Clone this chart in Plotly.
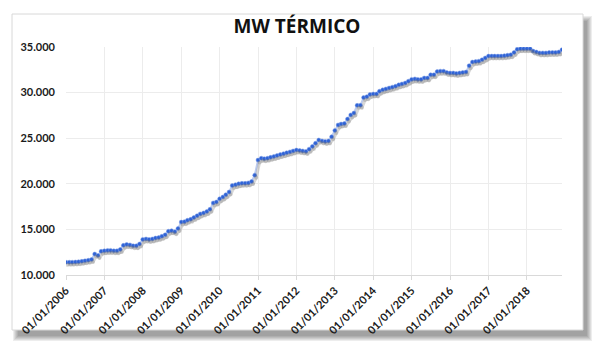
import pandas as pd
import plotly.graph_objects as go

# Monthly thermal capacity (MW), Jan 2006 - Dec 2018
mw_2006 = [11400, 11400, 11400, 11420, 11450, 11500, 11550, 11620, 11700, 12300, 12150, 12600]
mw_2007 = [12650, 12700, 12700, 12650, 12650, 12800, 13250, 13350, 13300, 13200, 13200, 13400]
mw_2008 = [13900, 13950, 13900, 13950, 14050, 14100, 14250, 14400, 14800, 14850, 14750, 15100]
mw_2009 = [15800, 15850, 16000, 16100, 16300, 16500, 16700, 16800, 16950, 17200, 17900, 18000]
mw_2010 = [18350, 18550, 18800, 19100, 19800, 19900, 20000, 20050, 20050, 20100, 20250, 20950]
mw_2011 = [22600, 22800, 22750, 22800, 22900, 23000, 23100, 23200, 23300, 23400, 23500, 23600]
mw_2012 = [23700, 23650, 23600, 23550, 23800, 24100, 24450, 24800, 24700, 24650, 24700, 25150]
mw_2013 = [25850, 26450, 26550, 26600, 27100, 27550, 27750, 28600, 28600, 29450, 29550, 29800]
mw_2014 = [29850, 29850, 30150, 30300, 30400, 30500, 30600, 30700, 30850, 30950, 31050, 31250]
mw_2015 = [31450, 31500, 31450, 31450, 31600, 31600, 31950, 31950, 32300, 32350, 32350, 32200]
mw_2016 = [32150, 32150, 32100, 32150, 32200, 32250, 32950, 33350, 33400, 33450, 33600, 33800]
mw_2017 = [34000, 34000, 34000, 34000, 34000, 34050, 34100, 34150, 34400, 34750, 34800, 34800]
mw_2018 = [34800, 34800, 34550, 34450, 34350, 34350, 34350, 34400, 34400, 34400, 34450, 34700]

values = (mw_2006 + mw_2007 + mw_2008 + mw_2009 + mw_2010 + mw_2011 + mw_2012 +
          mw_2013 + mw_2014 + mw_2015 + mw_2016 + mw_2017 + mw_2018)
dates = pd.date_range("2006-01-01", periods=len(values), freq="MS")

title_text = "MW TÉRMICO"
y_min, y_max, y_step = 10000, 35000, 5000
x_start, x_end = "2006-01-01", "2018-12-01"

# page has an 8px body margin, so the figure is drawn 8px smaller/offset
OFF = 8
W, H = 605 - OFF, 355 - OFF
ML, MR, MT, MB = 66 - OFF, 43, 47 - OFF, 80
PW, PH = W - ML - MR, H - MT - MB


def px(x):
    return (x - OFF - ML) / PW


def py(y):
    return (H - MB - (y - OFF)) / PH


fig = go.Figure()

# shadow of the line (same data on a pixel-shifted overlay axis)
fig.add_trace(go.Scatter(
    x=dates, y=values, mode="lines+markers", xaxis="x2", yaxis="y2",
    line=dict(color="rgba(110,110,110,0.28)", width=3),
    marker=dict(size=4, color="rgba(110,110,110,0.28)"),
    hoverinfo="skip", showlegend=False,
))

fig.add_trace(go.Scatter(
    x=dates, y=values, mode="lines+markers",
    line=dict(color="#bccbee", width=2),
    marker=dict(size=4, color="#2f63d6", line=dict(color="#7d9de6", width=0.5)),
    showlegend=False,
))

shapes = []
# card shadow (blurred)
cx0, cx1, cy0, cy1 = 12, 583, 14, 330
for j in range(6):
    shapes.append(dict(
        type="rect", xref="paper", yref="paper", layer="below",
        x0=px(cx0 + 6 - j), x1=px(cx1 + 4 + j), y0=py(cy1 + 6 + j), y1=py(cy0 + 7 - j),
        fillcolor="rgba(0,0,0,0.07)", line=dict(width=0),
    ))
# card
shapes.append(dict(
    type="rect", xref="paper", yref="paper", layer="below",
    x0=px(cx0), x1=px(cx1), y0=py(cy1), y1=py(cy0),
    fillcolor="white", line=dict(color="#d8d8d8", width=1),
))

# pixel-shift for line shadow axes
ms_per_px = (pd.Timestamp(x_end) - pd.Timestamp(x_start)) / PW
val_per_px = (y_max - y_min) / PH
sx, sy = 1.5, 2.5

fig.update_layout(
    width=W, height=H,
    margin=dict(l=ML, r=MR, t=MT, b=MB, autoexpand=False),
    paper_bgcolor="white",
    plot_bgcolor="rgba(0,0,0,0)",
    separators=",.",
    shapes=shapes,
    title=dict(
        text=title_text, x=px(297), xref="paper", xanchor="center",
        y=1 - (26 - OFF) / H, yref="container", yanchor="middle",
        font=dict(family="Open Sans", size=19, color="#111111", weight="bold"),
    ),
    xaxis=dict(
        type="date", range=[x_start, x_end],
        tick0=x_start, dtick="M12", tickformat="%d/%m/%Y", tickangle=-45,
        showgrid=True, gridcolor="#ececec", gridwidth=1,
        showline=True, linecolor="#d9d9d9", linewidth=1,
        ticks="outside", ticklen=4, tickcolor="#d9d9d9",
        tickfont=dict(family="Lato", size=11, color="#1a1a1a", weight="bold"),
        zeroline=False,
    ),
    yaxis=dict(
        range=[y_min, y_max], dtick=y_step, tick0=y_min, tickformat=",.0f",
        showgrid=True, gridcolor="#ececec", gridwidth=1,
        showline=False, ticks="", ticklabelstandoff=10,
        tickfont=dict(family="Lato", size=11, color="#1a1a1a", weight="bold"),
        zeroline=False,
    ),
    xaxis2=dict(
        type="date", overlaying="x",
        range=[pd.Timestamp(x_start) - ms_per_px * sx, pd.Timestamp(x_end) - ms_per_px * sx],
        visible=False, showgrid=False,
    ),
    yaxis2=dict(
        overlaying="y",
        range=[y_min + val_per_px * sy, y_max + val_per_px * sy],
        visible=False, showgrid=False,
    ),
)

fig.write_html("out.html")
